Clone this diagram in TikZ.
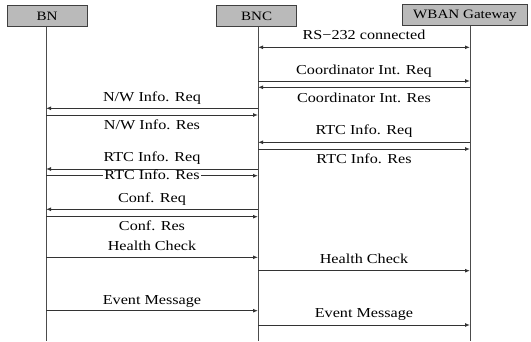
\documentclass[tikz,border=0pt]{standalone}
\usepackage{fontspec}
\setmainfont{Liberation Serif}[FakeStretch=1.18]
\usetikzlibrary{arrows.meta}

\begin{document}
\begin{tikzpicture}[x=1pt, y=-1pt, >={Latex[length=5pt,width=4pt]},
	actor/.style={draw=black!75, fill=black!27, line width=0.9pt, inner sep=0pt, minimum height=21pt, font=\fontsize{12.8}{14}\selectfont},
	life/.style={draw=black!70, line width=1pt},
	msg/.style={draw=black!80, line width=1pt, ->},
	lbl/.style={font=\fontsize{13.7}{15}\selectfont, inner sep=0pt, text height=0.7em, text depth=0.2em}]
			%%%%% START %%%%%
			\useasboundingbox (0,0) rectangle (531,341);
			
			\node[actor, minimum width=80pt] (BN) at (47, 16.3) {BN};
			\node[actor, minimum width=80pt] (BNC) at (256.7, 16) {BNC};
			\node[actor, minimum width=124.6pt] (GW) at (465, 15.3) {WBAN Gateway};
			
			\coordinate (bn) at (46, 0);
			\coordinate (bnc) at (258, 0);
			\coordinate (gw) at (470, 0);
			
			\draw[life] (bn |- BN.south) -- (bn |- 0,341);
			\draw[life] (bnc |- BNC.south) -- (bnc |- 0,341);
			\draw[life] (gw |- GW.south) -- (gw |- 0,341);
			
			\draw[msg, <->] (bnc |- 0,47.3) -- (gw |- 0,47.3) node[lbl, midway, yshift=10.8pt] {RS−232 connected};
			\draw[msg] (bnc |- 0,81) -- (gw |- 0,81) node[lbl, midway, yshift=9.5pt] {Coordinator Int. Req};
			\draw[msg] (gw |- 0,87.3) -- (bnc |- 0,87.3) node[lbl, midway, yshift=-12.2pt] {Coordinator Int. Res};
			
			\draw[msg] (bnc |- 0,108.3) -- (bn |- 0,108.3) node[lbl, midway, yshift=9.1pt] {N/W Info. Req};
			\draw[msg] (bn |- 0,115) -- (bnc |- 0,115) node[lbl, midway, yshift=-11.5pt] {N/W Info. Res};
			
			\draw[msg] (gw |- 0,142.3) -- (bnc |- 0,142.3) node[lbl, midway, yshift=10.1pt] {RTC Info. Req};
			\draw[msg] (bnc |- 0,149) -- (gw |- 0,149) node[lbl, midway, yshift=-11.5pt] {RTC Info. Res};
			
			\draw[msg] (bnc |- 0,169) -- (bn |- 0,169) node[lbl, midway, yshift=10.2pt] {RTC Info. Req};
			\draw[msg] (bn |- 0,175.7) -- (bnc |- 0,175.7) node[lbl, midway, yshift=-1.2pt, fill=white, inner xsep=1.5pt] {RTC Info. Res};
			
			\draw[msg] (bnc |- 0,209.3) -- (bn |- 0,209.3) node[lbl, midway, yshift=9.5pt] {Conf. Req};
			\draw[msg] (bn |- 0,216.7) -- (bnc |- 0,216.7) node[lbl, midway, yshift=-11.5pt] {Conf. Res};
			
			\draw[msg] (bn |- 0,257.3) -- (bnc |- 0,257.3) node[lbl, midway, yshift=9.8pt] {Health Check};
			\draw[msg] (bnc |- 0,270.7) -- (gw |- 0,270.7) node[lbl, midway, yshift=9.9pt] {Health Check};
			
			\draw[msg] (bn |- 0,310.7) -- (bnc |- 0,310.7) node[lbl, midway, yshift=9.2pt] {Event Message};
			\draw[msg] (bnc |- 0,325) -- (gw |- 0,325) node[lbl, midway, yshift=10.2pt] {Event Message};
			
			%%%%% END %%%%%
\end{tikzpicture}
\end{document}
